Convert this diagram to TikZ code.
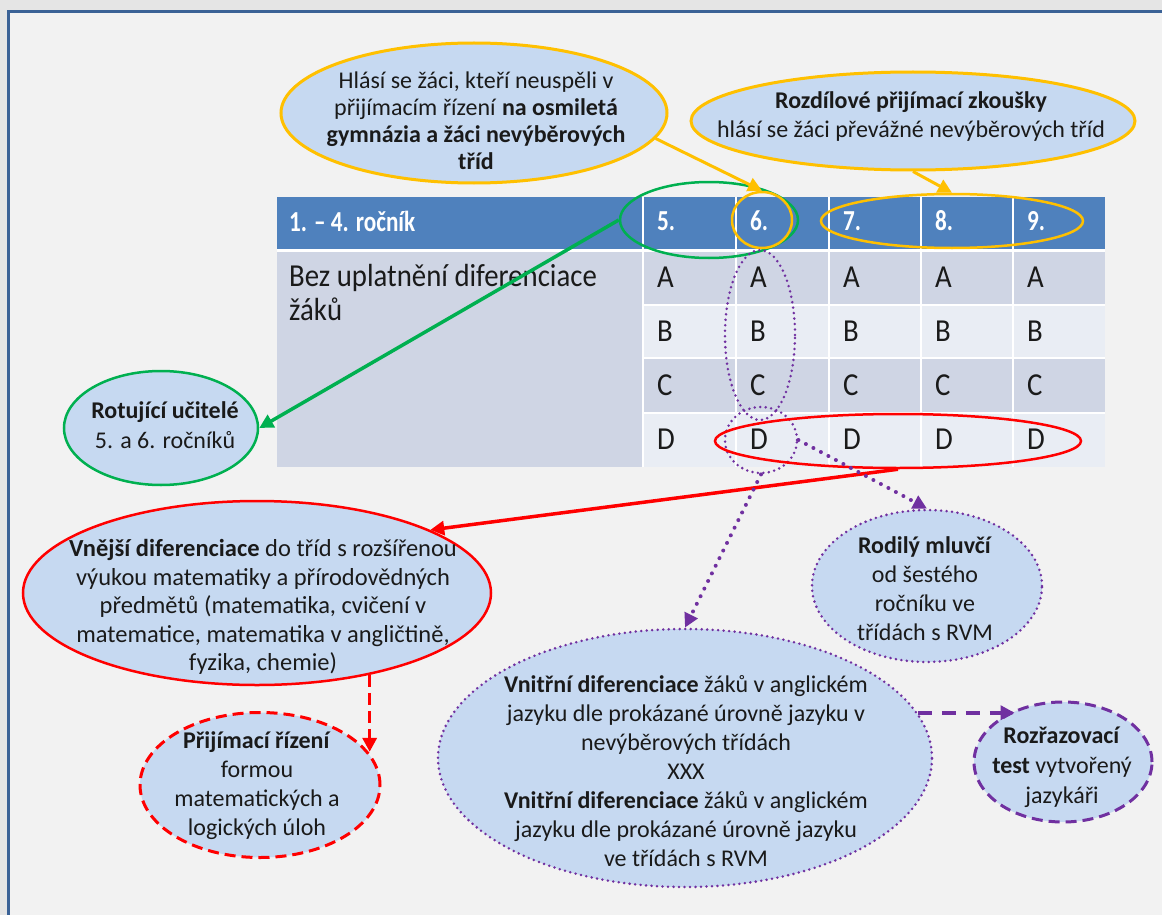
\documentclass[tikz,border=0pt]{standalone}
\usepackage{fontspec}
\setmainfont{Carlito}
\newfontfamily\tablefont[FakeStretch=0.9]{Carlito}
\newfontfamily\headfont[FakeStretch=0.8]{Carlito}
\usetikzlibrary{shapes.geometric,arrows.meta}

\definecolor{bubblefill}{HTML}{C6D9F1}
\definecolor{headblue}{HTML}{4F81BD}
\definecolor{rowdark}{HTML}{CFD5E4}
\definecolor{rowlight}{HTML}{E9EDF4}
\definecolor{framecol}{HTML}{3B6296}
\definecolor{ygold}{HTML}{FFC000}
\definecolor{ggreen}{HTML}{00B050}
\definecolor{rred}{HTML}{FF0000}
\definecolor{ppurple}{HTML}{7030A0}
\definecolor{pagegray}{HTML}{F2F2F2}
\definecolor{txt}{HTML}{1A1A1A}

\tikzset{
  bubble/.style={ellipse, draw, fill=bubblefill, inner sep=0pt},
  bubbletext/.style={align=center, text=txt, inner sep=0pt, font=\fontsize{24}{27}\selectfont},
  ring/.style={ellipse, draw, inner sep=0pt, line width=2.5pt},
  dotline/.style={line cap=round, dash pattern=on 0pt off 5.5pt, line width=2.8pt},
  celltext/.style={anchor=west, text=txt, inner sep=0pt, font=\tablefont\fontsize{32}{34}\selectfont},
  headtext/.style={anchor=west, text=white, inner sep=0pt, font=\headfont\bfseries\fontsize{29}{30}\selectfont},
  tip/.style={-{Triangle[length=14pt,width=14pt]}}
}

\begin{document}
\begin{tikzpicture}[x=1pt,y=1pt,yscale=-1]

% page and frame
\useasboundingbox (0,0) rectangle (1162,915);
\fill[black!10] (0,0) rectangle (1162,915);
\fill[pagegray] (8,12) rectangle (1162,915);
\draw[framecol, line width=3pt] (8,915) -- (8,12) -- (1162,12);

% table
\fill[headblue] (277,197) rectangle (1105,249);
\fill[rowdark] (277,252) rectangle (643,467);
\fill[rowdark] (643,252) rectangle (1105,305);
\fill[rowlight] (643,305) rectangle (1105,358);
\fill[rowdark] (643,358) rectangle (1105,413);
\fill[rowlight] (643,413) rectangle (1105,467);
\draw[white, line width=3pt] (277,250.5) -- (1105,250.5);
\draw[white, line width=2pt] (643,305) -- (1105,305);
\draw[white, line width=2pt] (643,358) -- (1105,358);
\draw[white, line width=2pt] (643,413) -- (1105,413);
\draw[white, line width=2pt] (643,197) -- (643,467);
\draw[white, line width=2pt] (736,197) -- (736,467);
\draw[white, line width=2pt] (829,197) -- (829,467);
\draw[white, line width=2pt] (921,197) -- (921,467);
\draw[white, line width=2pt] (1013,197) -- (1013,467);

\node[headtext] (h14) at (289,221) {1. – 4. ročník};
\node[headtext] (h5) at (657,221) {5.};
\node[headtext] (h6) at (750,221) {6.};
\node[headtext] (h7) at (843,221) {7.};
\node[headtext] (h8) at (935,221) {8.};
\node[headtext] (h9) at (1027,221) {9.};

\node[celltext, align=left] (bez) at (289,293) {Bez uplatnění diferenciace\\žáků};

\node[celltext] (a5) at (657,277) {A};
\node[celltext] (a6) at (750,277) {A};
\node[celltext] (a7) at (843,277) {A};
\node[celltext] (a8) at (935,277) {A};
\node[celltext] (a9) at (1027,277) {A};
\node[celltext] (b5) at (657,331) {B};
\node[celltext] (b6) at (750,331) {B};
\node[celltext] (b7) at (843,331) {B};
\node[celltext] (b8) at (935,331) {B};
\node[celltext] (b9) at (1027,331) {B};
\node[celltext] (c5) at (657,385) {C};
\node[celltext] (c6) at (750,385) {C};
\node[celltext] (c7) at (843,385) {C};
\node[celltext] (c8) at (935,385) {C};
\node[celltext] (c9) at (1027,385) {C};
\node[celltext] (d5) at (657,439) {D};
\node[celltext] (d6) at (750,439) {D};
\node[celltext] (d7) at (843,439) {D};
\node[celltext] (d8) at (935,439) {D};
\node[celltext] (d9) at (1027,439) {D};

% bubbles
\node[bubble, draw=ygold, line width=3pt, minimum width=386, minimum height=140] (hlasi) at (474,113) {};
\node[bubbletext] (hlasitext) at (476,121) {Hlásí se žáci, kteří neuspěli v\\přijímacím řízení \textbf{na osmiletá}\\\textbf{gymnázia a žáci nevýběrových}\\\textbf{tříd}};

\node[bubble, draw=ygold, line width=3pt, minimum width=444, minimum height=98] (rozdil) at (913,121) {};
\node[bubbletext, font=\fontsize{24}{29}\selectfont] (rozdiltext) at (911,117) {\textbf{Rozdílové přijímací zkoušky}\\hlásí se žáci převážné nevýběrových tříd};

\node[bubble, draw=ggreen, line width=2.5pt, minimum width=194, minimum height=114] (rotuj) at (161,428) {};
\node[bubbletext, font=\fontsize{24}{30}\selectfont] (rotujtext) at (165,425) {\textbf{Rotující učitelé}\\5. a 6. ročníků};

\node[bubble, draw=rred, line width=2.5pt, minimum width=468, minimum height=184] (vnejsi) at (257,593) {};
\node[bubbletext, font=\fontsize{24.5}{28.5}\selectfont] (vnejsitext) at (263,607) {\textbf{Vnější diferenciace} do tříd s rozšířenou\\výukou matematiky a přírodovědných\\předmětů (matematika, cvičení v\\matematice, matematika v angličtině,\\fyzika, chemie)};

\node[bubble, draw=rred, line width=3pt, dash pattern=on 11pt off 6pt, minimum width=240, minimum height=145] (prij) at (260,785) {};
\node[bubbletext, font=\fontsize{24}{29}\selectfont] (prijtext) at (257,786) {\textbf{Přijímací řízení}\\formou\\matematických a\\logických úloh};

\node[bubble, draw=ppurple, dotline, minimum width=230, minimum height=152] (rodily) at (927,586) {};
\node[bubbletext, font=\fontsize{24}{29}\selectfont] (rodilytext) at (925,589) {\textbf{Rodilý mluvčí}\\od šestého\\ročníku ve\\třídách s RVM};

\node[bubble, draw=ppurple, dotline, minimum width=494, minimum height=258] (vnitrni) at (685,758) {};
\node[bubbletext, font=\fontsize{24}{29}\selectfont] (vnitrnitext) at (686,771) {\textbf{Vnitřní diferenciace} žáků v anglickém\\jazyku dle prokázané úrovně jazyku v\\nevýběrových třídách\\XXX\\\textbf{Vnitřní diferenciace} žáků v anglickém\\jazyku dle prokázané úrovně jazyku\\ve třídách s RVM};

\node[bubble, draw=ppurple, line width=3pt, dash pattern=on 11pt off 6pt, minimum width=178, minimum height=120] (rozraz) at (1063,762) {};
\node[bubbletext, font=\fontsize{24}{30}\selectfont] (rozraztext) at (1062,767) {\textbf{Rozřazovací}\\\textbf{test} vytvořený\\jazykáři};

% rings on the table
\node[ring, draw=ggreen, minimum width=178, minimum height=76] (greenring) at (709,220) {};
\node[ring, draw=ygold, minimum width=60, minimum height=56] (sixring) at (762,220) {};
\node[ring, draw=ygold, minimum width=262, minimum height=54] (sevnine) at (952,221) {};
\node[ring, draw=ppurple, dotline, minimum width=70, minimum height=170] (colsix) at (760,335) {};
\node[ring, draw=ppurple, dotline, minimum width=72, minimum height=66] (smalld) at (761,440) {};
\node[ring, draw=rred, minimum width=366, minimum height=54] (redring) at (898,441) {};

% arrows
\draw[ygold, line width=3pt, tip] (hlasi.-8) -- (sixring.north);
\draw[ygold, line width=3pt, tip] (rozdil.south) -- (sevnine.north);
\draw[ggreen, line width=3.5pt, tip] (greenring.west) -- (rotuj.east);
\draw[rred, line width=3.5pt, tip] (redring.south) -- (vnejsi.20);
\draw[rred, line width=3.5pt, dash pattern=on 12pt off 6pt, tip] (vnejsi.-36) -- (vnejsi.-36 |- prij.17);
\draw[ppurple, line width=4pt, line cap=round, dash pattern=on 0pt off 8.5pt, tip] (smalld.south) -- (vnitrni.north);
\draw[ppurple, line width=4pt, line cap=round, dash pattern=on 0pt off 8.5pt, tip] (smalld.east) -- (rodily.north);
\draw[ppurple, line width=4pt, dash pattern=on 14pt off 10pt, tip] (vnitrni.11) -- (vnitrni.11 -| rozraz.133);

\end{tikzpicture}
\end{document}
